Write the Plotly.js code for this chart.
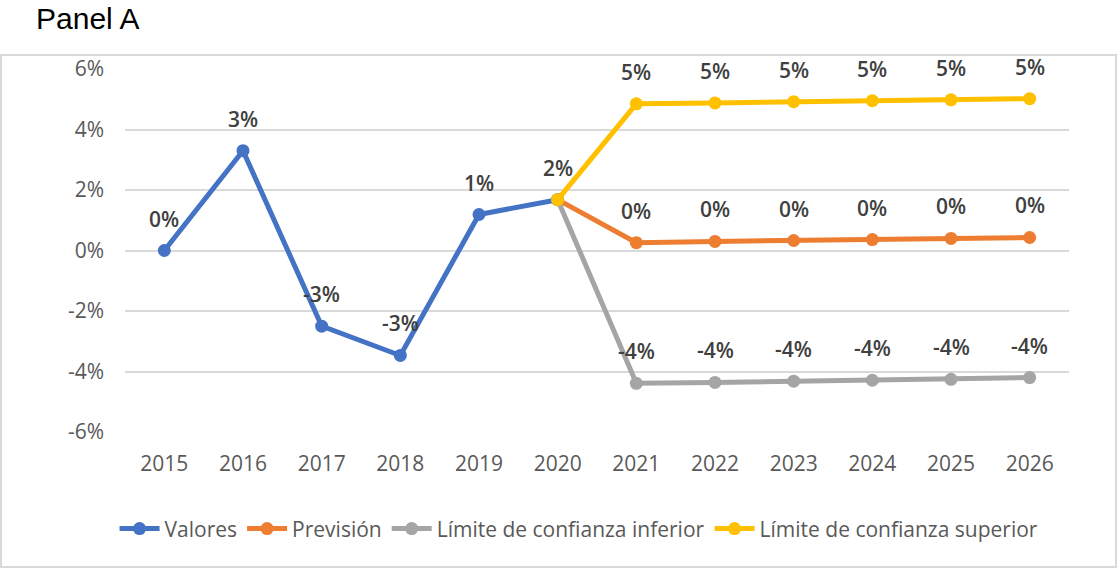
<!DOCTYPE html>
<html>
<head>
<meta charset="utf-8">
<script src="https://cdn.plot.ly/plotly-3.0.1.min.js"></script>
<style>
html,body{margin:0;padding:0;background:#fff;}
#chart{width:1117px;height:569px;}
</style>
</head>
<body>
<div id="chart"></div>
<script>
// ---- data (values in percent) ----
const yearsHist = [2015, 2016, 2017, 2018, 2019, 2020];
const yearsFcst = [2020, 2021, 2022, 2023, 2024, 2025, 2026];
const valores = [0.0, 3.3, -2.5, -3.47, 1.19, 1.68];
const valoresLabels = ['0%', '3%', '-3%', '-3%', '1%', '2%'];
const prevision = [1.68, 0.26, 0.30, 0.33, 0.36, 0.40, 0.43];
const previsionLabels = ['', '0%', '0%', '0%', '0%', '0%', '0%'];
const limInferior = [1.68, -4.39, -4.36, -4.32, -4.29, -4.26, -4.20];
const limInferiorLabels = ['', '-4%', '-4%', '-4%', '-4%', '-4%', '-4%'];
const limSuperior = [1.68, 4.85, 4.88, 4.92, 4.95, 4.98, 5.02];
const limSuperiorLabels = ['', '5%', '5%', '5%', '5%', '5%', '5%'];
const seriesNames = ['Valores', 'Previsión', 'Límite de confianza inferior', 'Límite de confianza superior'];
const yTickVals = [-6, -4, -2, 0, 2, 4, 6];
const yTickText = ['-6%', '-4%', '-2%', '0%', '2%', '4%', '6%'];
const xTickVals = [2015, 2016, 2017, 2018, 2019, 2020, 2021, 2022, 2023, 2024, 2025, 2026];

const colors = ['#4472C4', '#ED7D31', '#A5A5A5', '#FFC000'];
const FONT = 'Open Sans, Lato, sans-serif';

function mk(x, y, name, color) {
  return {
    x: x, y: y, name: name, type: 'scatter', mode: 'lines+markers',
    line: {color: color, width: 5},
    marker: {color: color, size: 13},
    hoverinfo: 'skip', cliponaxis: false
  };
}
const traces = [
  mk(yearsHist, valores, seriesNames[0], colors[0]),
  mk(yearsFcst, prevision, seriesNames[1], colors[1]),
  mk(yearsFcst, limInferior, seriesNames[2], colors[2]),
  mk(yearsFcst, limSuperior, seriesNames[3], colors[3])
];

const annotations = [];
function addLabels(xs, ys, labels) {
  for (let i = 0; i < xs.length; i++) {
    if (!labels[i]) continue;
    annotations.push({
      x: xs[i], y: ys[i], xref: 'x', yref: 'y', text: labels[i],
      showarrow: false, yshift: 32, xanchor: 'center', yanchor: 'middle',
      font: {family: FONT, size: 21, color: '#404040', weight: 600}
    });
  }
}
addLabels(yearsHist, valores, valoresLabels);
addLabels(yearsFcst, prevision, previsionLabels);
addLabels(yearsFcst, limInferior, limInferiorLabels);
addLabels(yearsFcst, limSuperior, limSuperiorLabels);

const layout = {
  width: 1117, height: 569,
  margin: {l: 125, r: 48, t: 69, b: 137},
  paper_bgcolor: '#ffffff', plot_bgcolor: '#ffffff',
  showlegend: true,
  title: {
    text: 'Panel A', x: 36 / 1117, xanchor: 'left', xref: 'container',
    y: 1 - 18 / 569, yanchor: 'middle', yref: 'container',
    font: {family: 'Liberation Sans, Arial, sans-serif', size: 30, color: '#000000'}
  },
  xaxis: {
    range: [2014.5, 2026.5], tickvals: xTickVals, showgrid: false, zeroline: false,
    showline: false, ticks: '', ticklabelstandoff: 17,
    tickfont: {family: FONT, size: 21, color: '#595959'}, fixedrange: true
  },
  yaxis: {
    range: [-6, 6], tickvals: yTickVals, ticktext: yTickText,
    showgrid: true, gridcolor: '#D9D9D9', gridwidth: 2,
    zeroline: false, showline: false, ticks: '', ticklabelstandoff: 20,
    tickfont: {family: FONT, size: 21, color: '#595959'}, fixedrange: true
  },
  legend: {
    orientation: 'h', x: 0.481, xanchor: 'center', y: -0.267, yanchor: 'middle',
    font: {family: FONT, size: 21, color: '#595959'}, itemwidth: 40, tracegroupgap: 0,
    bgcolor: 'rgba(0,0,0,0)'
  },
  annotations: annotations,
  shapes: [{
    type: 'rect', xref: 'paper', yref: 'paper',
    x0: (1 - 125) / 944, x1: (1116 - 125) / 944,
    y0: (432 - 567) / 363, y1: (432 - 55) / 363,
    line: {color: '#D9D9D9', width: 2}, fillcolor: 'rgba(0,0,0,0)', layer: 'below'
  }]
};

Plotly.newPlot('chart', traces, layout, {displayModeBar: false, staticPlot: true});
</script>
</body>
</html>
